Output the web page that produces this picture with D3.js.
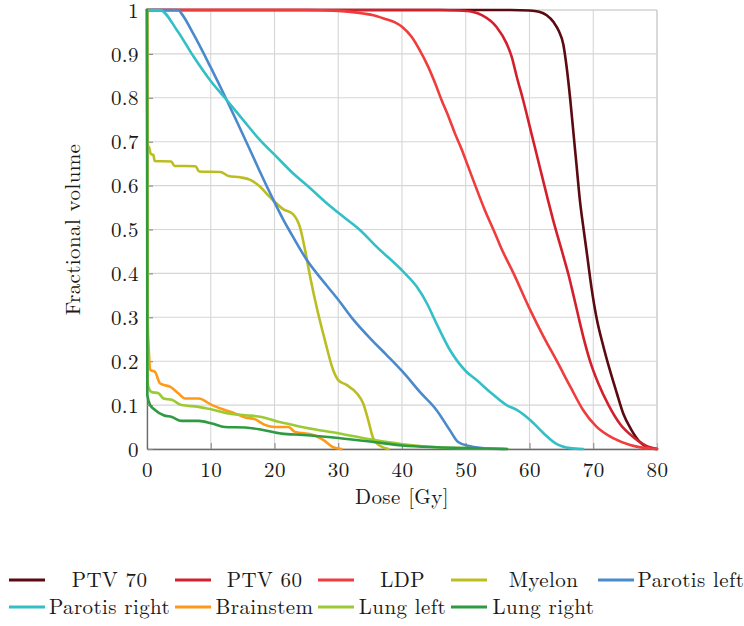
<!DOCTYPE html>
<html><head><meta charset="utf-8">
<script src="https://cdn.jsdelivr.net/npm/d3@7"></script>
<style>
body{margin:0;background:#fff}
svg{display:block}
text{font-family:"Latin Modern Roman","CMU Serif","Liberation Serif",serif;font-size:21px;fill:#1a1a1a;letter-spacing:0.4px}
</style>
</head><body>
<svg id="c" width="744" height="626"></svg>
<script>
// ---- data ----
const seriesNames = ["PTV 70","PTV 60","LDP","Myelon","Parotis left","Parotis right","Brainstem","Lung left","Lung right"];
const seriesColors = ["#5a0a10","#d3202c","#f03c3c","#bcbd22","#4a89cc","#33bfc6","#ff9a18","#9acb34","#2e9b42"];
const ptv70 = [[0,1],[57,1],[60,0.999],[61.5,0.996],[62.7,0.988],[63.8,0.972],[64.6,0.952],[65.3,0.922],[65.8,0.873],[66.4,0.795],[66.9,0.719],[67.4,0.643],[67.9,0.567],[68.4,0.51],[69,0.446],[69.7,0.37],[70.5,0.30],[71.6,0.233],[72.6,0.18],[73.7,0.127],[74.7,0.081],[76,0.043],[77.3,0.016],[78.9,0.002],[80,0]];
const ptv60 = [[0,1],[46,1],[49,0.999],[51,0.996],[52.6,0.988],[54.8,0.962],[56.4,0.924],[57.2,0.894],[58,0.848],[59,0.795],[60.3,0.719],[61.6,0.643],[62.9,0.567],[63.7,0.522],[65.3,0.44],[66.1,0.398],[66.9,0.35],[67.7,0.30],[68.5,0.252],[69.5,0.20],[70.8,0.149],[72.4,0.10],[74.2,0.057],[76.3,0.027],[78.9,0.004],[80,0]];
const ldp = [[0,1],[25,1],[30,0.998],[33,0.994],[35.5,0.988],[37.5,0.979],[38.9,0.972],[40,0.962],[41.5,0.939],[42.8,0.908],[44.1,0.871],[45.2,0.833],[46.2,0.795],[47.3,0.757],[48.3,0.719],[49.4,0.681],[50,0.658],[51.5,0.600],[53,0.544],[54.6,0.491],[55.4,0.463],[57.5,0.40],[60.1,0.317],[62.2,0.256],[64.3,0.20],[66.4,0.142],[68.4,0.089],[70.5,0.051],[73.2,0.024],[75.8,0.009],[78.9,0.001],[80,0]];
const myelon = [[0,1],[0.05,0.69],[0.3,0.688],[0.6,0.672],[1.0,0.67],[1.2,0.656],[3.8,0.655],[4.3,0.645],[7.6,0.644],[8.2,0.632],[11.5,0.631],[12.8,0.622],[14.6,0.619],[16.2,0.613],[17.7,0.598],[19.2,0.575],[21.4,0.546],[22.9,0.535],[23.6,0.52],[24.0,0.505],[24.8,0.453],[25.6,0.392],[26.6,0.324],[27.9,0.248],[29.2,0.18],[30,0.157],[31.3,0.146],[32.9,0.127],[33.9,0.104],[34.7,0.066],[35.5,0.024],[36.5,0.008],[37.9,0]];
const parotisLeft = [[0,1],[4.9,1],[5.5,0.99],[7.3,0.945],[9.9,0.872],[12.5,0.795],[14.6,0.73],[16.2,0.68],[17.7,0.632],[19.8,0.568],[21.4,0.522],[22.4,0.496],[25.1,0.43],[27.7,0.381],[30,0.34],[32.4,0.294],[35,0.252],[37.6,0.214],[40.1,0.176],[42.8,0.13],[45.4,0.089],[47.5,0.043],[48.8,0.016],[50.7,0.006],[53.3,0.001],[56,0]];
const parotisRight = [[0,1],[2,1],[4.7,0.954],[7.3,0.894],[9.9,0.84],[12.5,0.795],[15.1,0.749],[17.7,0.704],[20.3,0.666],[22.9,0.628],[25.6,0.594],[28.2,0.56],[30.8,0.529],[33.4,0.499],[36,0.461],[40.2,0.404],[42.3,0.37],[43.9,0.332],[45.4,0.286],[47.5,0.226],[50.1,0.176],[51.7,0.157],[53.8,0.13],[56.4,0.10],[58,0.089],[60.1,0.066],[62.2,0.036],[64.3,0.011],[66.4,0.002],[68.4,0]];
const brainstem = [[0,1],[0.1,0.3],[0.3,0.22],[0.5,0.18],[1.25,0.176],[2.0,0.15],[2.6,0.146],[3.6,0.142],[4.9,0.127],[6.0,0.115],[8.1,0.115],[10.2,0.10],[12.2,0.089],[13.8,0.081],[15.4,0.072],[16.9,0.068],[18.5,0.055],[20,0.05],[22.2,0.05],[23.2,0.039],[26.1,0.032],[27.7,0.02],[29.2,0.004],[30.5,0]];
const lungLeft = [[0,1],[0.1,0.16],[0.2,0.142],[0.7,0.13],[1.8,0.127],[2.6,0.115],[3.9,0.112],[5.4,0.10],[8.1,0.096],[10.2,0.09],[12.8,0.081],[15.4,0.077],[18,0.073],[20.6,0.062],[21.9,0.058],[25.1,0.048],[30,0.036],[35,0.022],[40.1,0.011],[45.4,0.004],[50,0.002],[56.5,0]];
const lungRight = [[0,1],[0.05,0.123],[0.5,0.1],[1.25,0.089],[2.6,0.077],[3.9,0.073],[5.4,0.064],[8.1,0.064],[10.2,0.058],[12.2,0.05],[15.4,0.049],[18,0.044],[21.1,0.035],[24.5,0.032],[30,0.025],[35,0.017],[40.1,0.008],[45.4,0.004],[50,0.002],[56.5,0]];
const seriesData = [ptv70, ptv60, ldp, myelon, parotisLeft, parotisRight, brainstem, lungLeft, lungRight];
const xTicks = [0,10,20,30,40,50,60,70,80];
const yTicks = [0,0.1,0.2,0.3,0.4,0.5,0.6,0.7,0.8,0.9,1];
const yTickLabels = ["0","0.1","0.2","0.3","0.4","0.5","0.6","0.7","0.8","0.9","1"];
const xLabel = "Dose [Gy]";
const yLabel = "Fractional volume";

// ---- layout ----
const L = 147, R = 657, T = 10, B = 449;
const svg = d3.select("#c");
const x = d3.scaleLinear().domain([0,80]).range([L,R]);
const y = d3.scaleLinear().domain([0,1]).range([B,T]);

// grid
const g = svg.append("g");
g.selectAll(".gx").data(xTicks).enter().append("line")
  .attr("x1",d=>x(d)).attr("x2",d=>x(d)).attr("y1",T).attr("y2",B)
  .attr("stroke","#d6d6d6").attr("stroke-width",1.1);
g.selectAll(".gy").data(yTicks).enter().append("line")
  .attr("x1",L).attr("x2",R).attr("y1",d=>y(d)).attr("y2",d=>y(d))
  .attr("stroke","#d6d6d6").attr("stroke-width",1.1);

// axes
const xAxis = d3.axisBottom(x).tickValues(xTicks).tickSizeInner(-6).tickSizeOuter(0).tickPadding(13).tickFormat(d3.format("d"));
const yAxis = d3.axisLeft(y).tickValues(yTicks).tickSizeInner(-6).tickSizeOuter(0).tickPadding(8).tickFormat((d,i)=>yTickLabels[i]);
const gx = svg.append("g").attr("transform",`translate(0,${B})`).call(xAxis);
const gy = svg.append("g").attr("transform",`translate(${L},0)`).call(yAxis);
[gx,gy].forEach(a=>{
  a.select(".domain").attr("stroke","#6a6a6a").attr("stroke-width",1.3);
  a.selectAll(".tick line").attr("stroke","#8a8a8a").attr("stroke-width",1.1);
  a.selectAll("text").attr("font-family",null).attr("font-size",null).style("fill","#1a1a1a");
});
gy.selectAll(".tick text").attr("dy","0.34em");
// top/right frame
svg.append("line").attr("x1",L).attr("x2",R).attr("y1",T).attr("y2",T).attr("stroke","#cfcfcf").attr("stroke-width",1.2);
svg.append("line").attr("x1",R).attr("x2",R).attr("y1",T).attr("y2",B).attr("stroke","#cfcfcf").attr("stroke-width",1.2);

// curves
const line = d3.line().x(d=>x(d[0])).y(d=>y(d[1])).curve(d3.curveMonotoneX);
svg.append("g").selectAll("path").data(seriesData).enter().append("path")
  .attr("d",line).attr("fill","none")
  .attr("stroke",(d,i)=>seriesColors[i]).attr("stroke-width",2.6)
  .attr("stroke-linejoin","round").attr("stroke-linecap","round");

// axis labels
svg.append("text").attr("x",(L+R)/2).attr("y",504).attr("text-anchor","middle").text(xLabel);
svg.append("text").attr("transform",`translate(80,${(T+B)/2}) rotate(-90)`).attr("text-anchor","middle").text(yLabel);

// legend
const legCols = [{lx:9,tc:109.5},{lx:175,tc:264.5},{lx:318,tc:402.5},{lx:451,tc:543.5},{lx:598,tc:691}];
const legRows = [580,607];
const leg = svg.append("g");
seriesNames.forEach((n,i)=>{
  const c = legCols[i%5], ry = legRows[Math.floor(i/5)];
  leg.append("line").attr("x1",c.lx).attr("x2",c.lx+36).attr("y1",ry).attr("y2",ry)
    .attr("stroke",seriesColors[i]).attr("stroke-width",3.2);
  leg.append("text").attr("x",c.tc).attr("y",ry).attr("dy","0.35em").attr("text-anchor","middle").text(n);
});
</script>
</body></html>
